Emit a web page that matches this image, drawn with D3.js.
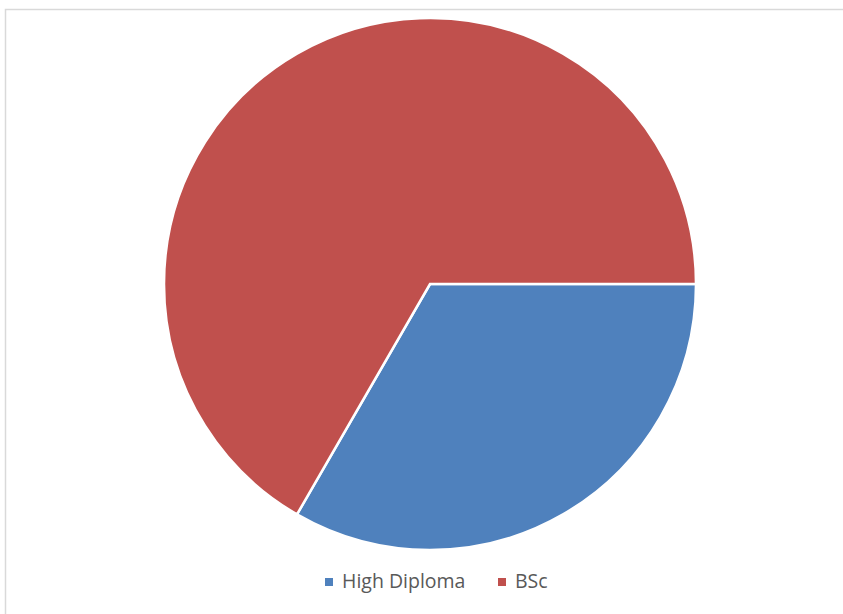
<!DOCTYPE html>
<html>
<head>
<meta charset="utf-8">
<script src="https://cdn.jsdelivr.net/npm/d3@7"></script>
<style>
  body { margin: 0; background: #fff; }
  svg { display: block; }
</style>
</head>
<body>
<svg></svg>
<script>
var width = 843;
var height = 614;

var categories = ["High Diploma", "BSc"];
var values = [1, 2];
var colors = ["#4F81BD", "#C0504D"];

var svg = d3.select("svg")
              .attr("width", width)
              .attr("height", height);

// chart area border (top and left edges visible)
svg.append("rect")
   .attr("x", 5.5)
   .attr("y", 9.5)
   .attr("width", width + 10)
   .attr("height", height + 10)
   .attr("fill", "none")
   .attr("stroke", "#d9d9d9")
   .attr("stroke-width", 1.5);

var cx = 430, cy = 284, radius = 266;

// first slice starts at 3 o'clock, going clockwise
var pie = d3.pie()
            .sort(null)
            .startAngle(Math.PI / 2)
            .endAngle(Math.PI / 2 + 2 * Math.PI);

var arc = d3.arc().innerRadius(0).outerRadius(radius);

svg.append("g")
   .attr("transform", "translate(" + cx + "," + cy + ")")
   .selectAll("path")
   .data(pie(values))
   .enter()
   .append("path")
     .attr("d", arc)
     .attr("fill", (d, i) => colors[i])
     .attr("stroke", "#fff")
     .attr("stroke-width", 2.5);

// legend
var legendX = [325, 498];
var item = svg.append("g")
              .selectAll("g")
              .data(categories)
              .enter()
              .append("g")
                .attr("transform", (d, i) => "translate(" + legendX[i] + ",578)");

item.append("rect")
    .attr("width", 8)
    .attr("height", 8)
    .attr("fill", (d, i) => colors[i]);

item.append("text")
    .attr("x", 17)
    .attr("y", 10)
    .attr("font-family", "'Open Sans', 'Liberation Sans', sans-serif")
    .attr("font-size", 19.5)
    .attr("fill", "#595959")
    .text(d => d);
</script>
</body>
</html>
